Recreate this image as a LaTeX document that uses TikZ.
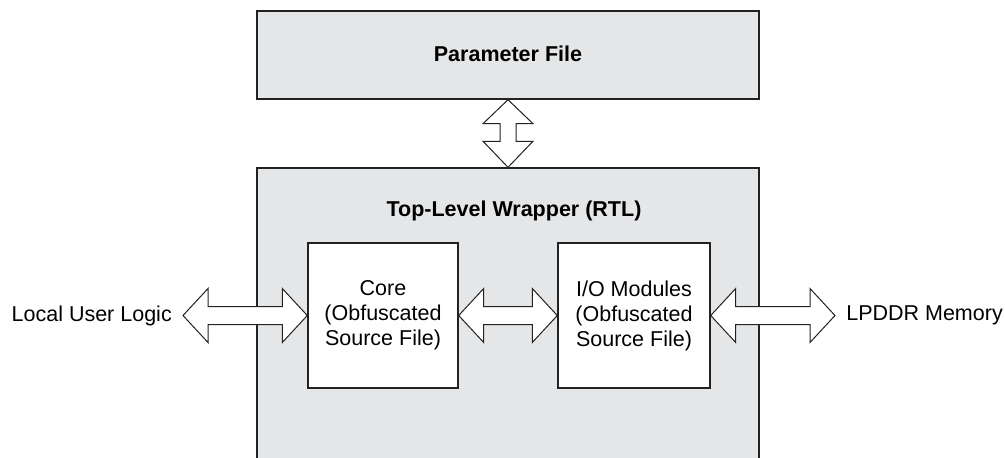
\documentclass[tikz,border=0pt]{standalone}
\usepackage{fontspec}
\setmainfont{Liberation Sans}
\usetikzlibrary{calc}
\definecolor{boxgray}{HTML}{E5E6E8}
\definecolor{linec}{HTML}{222222}
\tikzset{
  graybox/.style={draw=linec, line width=1.4pt, fill=boxgray, rectangle, inner sep=0pt},
  whitebox/.style={draw=linec, line width=1.4pt, fill=white, rectangle, inner sep=0pt, align=center,
    font=\fontsize{21.5}{25}\selectfont},
  arr/.style={draw=linec, line width=1pt, fill=white, line join=miter},
  lbl/.style={font=\fontsize{21.5}{25}\selectfont, inner sep=0pt},
  title/.style={font=\fontsize{21.5}{25}\selectfont\bfseries, inner sep=0pt}
}
% horizontal double arrow between two points (same y)
\newcommand\hdarrow[2]{%
  \path[arr] let \p1=(#1), \p2=(#2) in
    (\x1,\y1) -- (\x1+25pt,\y1+27pt) -- (\x1+25pt,\y1+9pt) -- (\x2-25pt,\y1+9pt)
    -- (\x2-25pt,\y1+27pt) -- (\x2,\y1) -- (\x2-25pt,\y1-27pt) -- (\x2-25pt,\y1-9pt)
    -- (\x1+25pt,\y1-9pt) -- (\x1+25pt,\y1-27pt) -- cycle;}
% vertical double arrow between two points (same x), #1 above #2
\newcommand\vdarrow[2]{%
  \path[arr] let \p1=(#1), \p2=(#2) in
    (\x1,\y1) -- (\x1+25pt,\y1-24pt) -- (\x1+8pt,\y1-24pt) -- (\x1+8pt,\y2+26pt)
    -- (\x1+25pt,\y2+26pt) -- (\x1,\y2) -- (\x1-25pt,\y2+26pt) -- (\x1-8pt,\y2+26pt)
    -- (\x1-8pt,\y1-24pt) -- (\x1-25pt,\y1-24pt) -- cycle;}
\begin{document}
\begin{tikzpicture}[x=1pt,y=-1pt]
\useasboundingbox (0,0) rectangle (1005,458);
\clip (0,0) rectangle (1005,458);
\fill[white] (0,0) rectangle (1005,458);
% parameter file
\node[graybox, minimum width=502pt, minimum height=88pt] (param) at (508,55) {};
\node[title] (paramt) at (508,54) {Parameter File};
% wrapper
\node[graybox, minimum width=502pt, minimum height=320pt] (wrap) at (508,328) {};
\node[title] (wrapt) at (514,211) {Top-Level Wrapper (RTL)};
% inner boxes
\node[whitebox, minimum width=150pt, minimum height=145pt] (core) at (383,315.5)
  {Core\\(Obfuscated\\Source File)};
\node[whitebox, minimum width=152pt, minimum height=145pt] (io) at (634,315.5)
  {I/O Modules\\(Obfuscated\\Source File)};
% external labels
\coordinate (lulend) at (183,315.5);
\coordinate (memend) at (835,315.5);
\node[lbl, anchor=east] (lul) at (172,315.5) {Local User Logic};
\node[lbl, anchor=east] (mem) at (1003,315.5) {LPDDR Memory};
% arrows
\vdarrow{param.south}{wrap.north}
\hdarrow{lulend}{core.west}
\hdarrow{core.east}{io.west}
\hdarrow{io.east}{memend}
\end{tikzpicture}
\end{document}
